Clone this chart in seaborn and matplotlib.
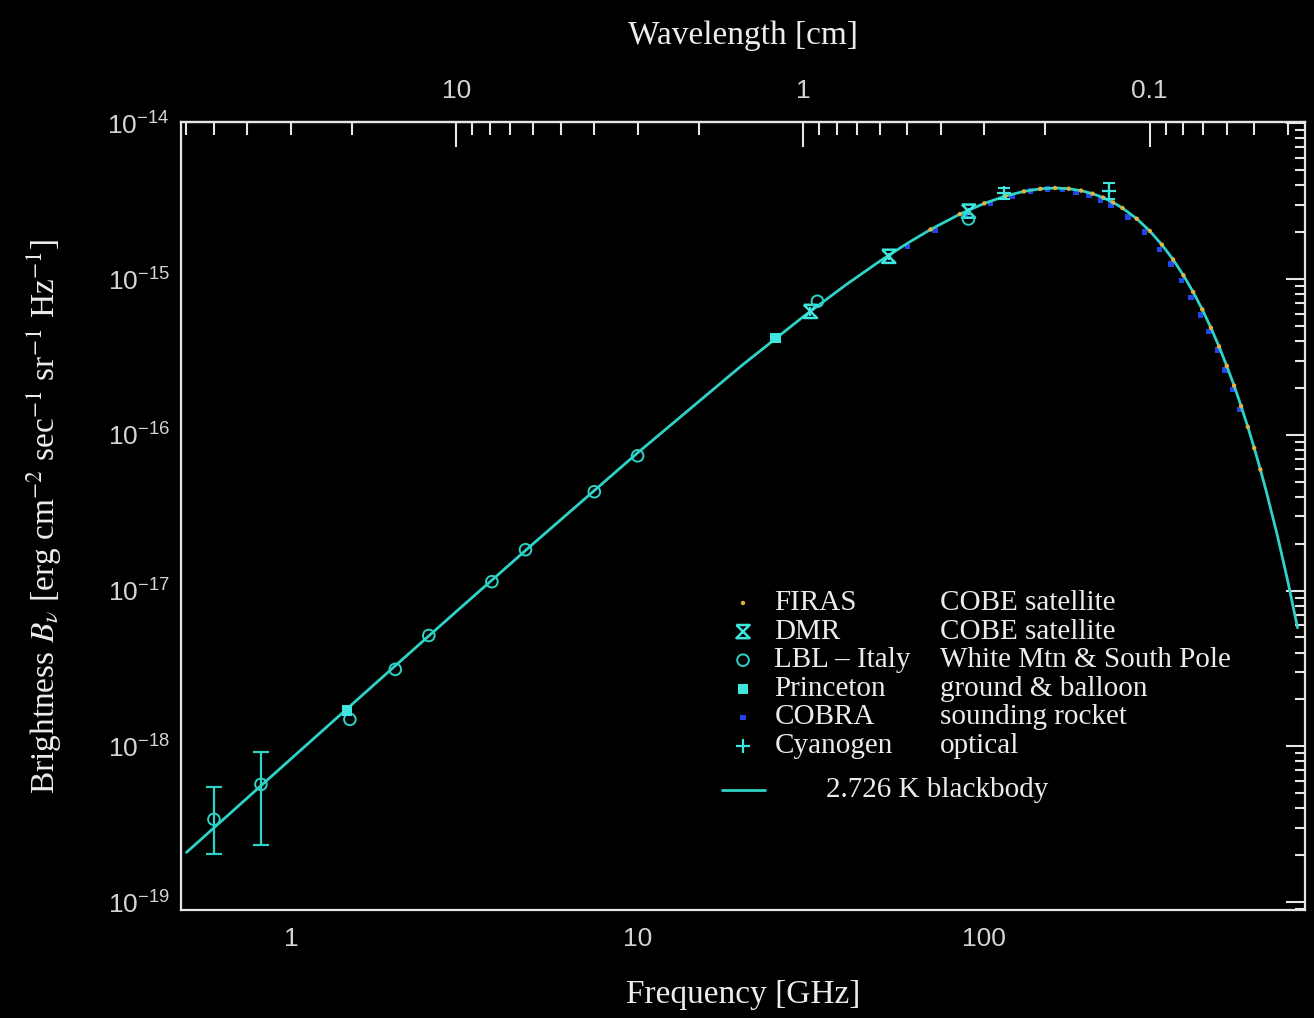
import numpy as np
import matplotlib
matplotlib.use('Agg')
import matplotlib.pyplot as plt
import seaborn as sns
from matplotlib.path import Path
from matplotlib.ticker import LogLocator, NullFormatter

# 2.726 K blackbody curve
bb_freq = [0.5, 1, 2, 3, 5, 10, 20, 30, 40, 50, 60, 70, 85, 100, 115, 130, 145, 160,
           175, 190, 205, 220, 235, 250, 275, 300, 325, 350, 375, 400, 425, 450, 475,
           500, 525, 550, 575, 600, 625, 650, 700, 750, 800]
bb_bright = [2.085e-19, 8.30e-19, 3.29e-18, 7.34e-18, 2.00e-17, 7.66e-17, 2.795e-16,
             5.72e-16, 9.23e-16, 1.306e-15, 1.698e-15, 2.082e-15, 2.612e-15, 3.062e-15,
             3.412e-15, 3.656e-15, 3.796e-15, 3.841e-15, 3.803e-15, 3.696e-15, 3.535e-15,
             3.334e-15, 3.105e-15, 2.860e-15, 2.440e-15, 2.035e-15, 1.662e-15, 1.336e-15,
             1.057e-15, 8.26e-16, 6.38e-16, 4.87e-16, 3.69e-16, 2.77e-16, 2.07e-16,
             1.53e-16, 1.126e-16, 8.23e-17, 5.99e-17, 4.34e-17, 2.25e-17, 1.147e-17, 5.77e-18]

# FIRAS (COBE)
firas_freq = [70, 85, 100, 115, 130, 145, 160, 175, 190, 205, 220, 235, 250, 275, 300,
              325, 350, 375, 400, 425, 450, 475, 500, 525, 550, 575, 600, 625]
firas_bright = [2.082e-15, 2.612e-15, 3.062e-15, 3.412e-15, 3.656e-15, 3.796e-15,
                3.841e-15, 3.803e-15, 3.696e-15, 3.535e-15, 3.334e-15, 3.105e-15,
                2.860e-15, 2.440e-15, 2.035e-15, 1.662e-15, 1.336e-15, 1.057e-15,
                8.26e-16, 6.38e-16, 4.87e-16, 3.69e-16, 2.77e-16, 2.07e-16, 1.53e-16,
                1.126e-16, 8.23e-17, 5.99e-17]

# COBRA (sounding rocket)
cobra_freq = [60, 72, 88, 104, 120, 136, 152, 168, 184, 200, 216, 232, 260, 290, 320,
              345, 370, 395, 420, 445, 470, 495, 520, 545]
cobra_bright = [1.62e-15, 2.05e-15, 2.60e-15, 3.05e-15, 3.42e-15, 3.68e-15, 3.78e-15,
                3.76e-15, 3.62e-15, 3.45e-15, 3.22e-15, 2.98e-15, 2.50e-15, 2.00e-15,
                1.55e-15, 1.25e-15, 9.8e-16, 7.6e-16, 5.9e-16, 4.6e-16, 3.5e-16,
                2.6e-16, 1.95e-16, 1.45e-16]

# DMR (COBE)
dmr_freq = [31.5, 53.0, 90.0]
dmr_bright = [6.2e-16, 1.40e-15, 2.73e-15]
dmr_err = [0.4e-16, 0.8e-16, 1.5e-16]

# LBL - Italy
lbl_freq = [0.60, 0.82, 1.48, 2.0, 2.5, 3.8, 4.75, 7.5, 10.0, 33.0, 90.0]
lbl_bright = [3.40e-19, 5.70e-19, 1.49e-18, 3.12e-18, 5.15e-18, 1.14e-17, 1.83e-17,
              4.31e-17, 7.33e-17, 7.2e-16, 2.43e-15]
lbl_err_lo = [2.03e-19, 2.32e-19]   # lower ends of the two low-frequency bars
lbl_err_hi = [5.46e-19, 9.16e-19]   # upper ends

# Princeton
princeton_freq = [1.45, 25.0]
princeton_bright = [1.70e-18, 4.19e-16]

# Cyanogen
cyan_freq = [113.6, 229.0]
cyan_bright = [3.56e-15, 3.70e-15]
cyan_err = [0.3e-15, 0.45e-15]

legend_names = ['FIRAS', 'DMR', 'LBL \u2013 Italy', 'Princeton', 'COBRA', 'Cyanogen']
legend_notes = ['COBE satellite', 'COBE satellite', 'White Mtn & South Pole',
                'ground & balloon', 'sounding rocket', 'optical']

CYAN = '#2fd2c6'
BRIGHT = '#3fe6e0'
FG = '#ececec'
TICKC = '#d4d4d4'

sns.set_theme(style='dark', rc={
    'figure.facecolor': 'black', 'axes.facecolor': 'black',
    'savefig.facecolor': 'black', 'axes.edgecolor': '#e6e6e6',
    'axes.linewidth': 1.6, 'text.color': FG, 'axes.labelcolor': FG,
    'xtick.color': '#e6e6e6', 'ytick.color': '#e6e6e6',
})
plt.rcParams['font.family'] = ['Liberation Serif', 'DejaVu Serif']
plt.rcParams['mathtext.fontset'] = 'stix'

hourglass = Path([(-1, 1), (1, 1), (-1, -1), (1, -1), (-1, 1)])
styles = {
    'FIRAS': dict(marker='o', s=10, color='#e3b43c', edgecolor='none'),
    'DMR': dict(marker=hourglass, s=90, facecolor='none', edgecolor=BRIGHT, linewidth=1.8),
    'LBL': dict(marker='o', s=70, facecolor='none', edgecolor=CYAN, linewidth=1.4),
    'Princeton': dict(marker='s', s=55, color=BRIGHT, edgecolor='none'),
    'COBRA': dict(marker='s', s=16, color='#2445e6', edgecolor='none'),
    'Cyanogen': dict(marker='+', s=90, color=BRIGHT, linewidth=1.6),
}

fig = plt.figure(figsize=(13.14, 10.18), dpi=100)
ax = fig.add_axes([0.1377, 0.1061, 0.8555, 0.7741])
ax.set_xscale('log')
ax.set_yscale('log')

sns.scatterplot(x=cobra_freq, y=cobra_bright, ax=ax, zorder=2, **styles['COBRA'])
sns.lineplot(x=bb_freq, y=bb_bright, ax=ax, color=CYAN, linewidth=2.0, zorder=3)
sns.scatterplot(x=firas_freq, y=firas_bright, ax=ax, zorder=4, **styles['FIRAS'])

ax.errorbar(dmr_freq, dmr_bright, yerr=dmr_err, fmt='none', ecolor=BRIGHT,
            elinewidth=1.5, capsize=0, zorder=5)
sns.scatterplot(x=dmr_freq, y=dmr_bright, ax=ax, zorder=5, **styles['DMR'])

lo = np.array(lbl_bright[:2]) - np.array(lbl_err_lo)
hi = np.array(lbl_err_hi) - np.array(lbl_bright[:2])
ax.errorbar(lbl_freq[:2], lbl_bright[:2], yerr=[lo, hi], fmt='none', ecolor=CYAN,
            elinewidth=1.6, capsize=6, capthick=1.6, zorder=5)
sns.scatterplot(x=lbl_freq, y=lbl_bright, ax=ax, zorder=5, **styles['LBL'])
sns.scatterplot(x=princeton_freq, y=princeton_bright, ax=ax, zorder=5, **styles['Princeton'])

ax.errorbar(cyan_freq, cyan_bright, yerr=cyan_err, fmt='none', ecolor=BRIGHT,
            elinewidth=1.5, capsize=4, capthick=1.5, zorder=5)
sns.scatterplot(x=cyan_freq, y=cyan_bright, ax=ax, zorder=6, **styles['Cyanogen'])

ax.set_xlim(0.482, 841)
ax.set_ylim(0.89e-19, 1.02e-14)

# ticks
ax.set_xticks([1, 10, 100], labels=['1', '10', '100'])
ax.xaxis.set_minor_locator(LogLocator(base=10, subs=np.arange(2, 10), numticks=30))
ax.xaxis.set_minor_formatter(NullFormatter())
ax.set_yticks([1e-19, 1e-18, 1e-17, 1e-16, 1e-15, 1e-14])
ax.yaxis.set_minor_locator(LogLocator(base=10, subs=np.arange(2, 10), numticks=30))
ax.yaxis.set_minor_formatter(NullFormatter())
ax.tick_params(which='both', direction='in', top=False, right=True, width=1.5,
               labelcolor=TICKC, labelsize=19)
ax.tick_params(axis='x', which='major', length=14, pad=12)
ax.tick_params(axis='y', which='major', length=14, pad=8)
ax.tick_params(which='minor', length=7)
for lab in ax.get_xticklabels() + ax.get_yticklabels():
    lab.set_fontfamily('Liberation Sans')

# wavelength axis on top
C_CM = 29.9792


def ghz_to_cm(f):
    f = np.asarray(f, dtype=float)
    with np.errstate(divide='ignore'):
        return C_CM / f


sec = ax.secondary_xaxis('top', functions=(ghz_to_cm, ghz_to_cm))
sec.set_xticks([10, 1, 0.1], labels=['10', '1', '0.1'])
sec.xaxis.set_minor_locator(LogLocator(base=10, subs=np.arange(2, 10), numticks=30))
sec.xaxis.set_minor_formatter(NullFormatter())
sec.tick_params(which='both', direction='in', width=1.5, labelcolor=TICKC, labelsize=19)
sec.tick_params(which='major', length=18, pad=14)
sec.tick_params(which='minor', length=9)
for lab in sec.get_xticklabels():
    lab.set_fontfamily('Liberation Sans')
sec.set_xlabel('Wavelength [cm]', fontsize=24, labelpad=25)

ax.set_xlabel('Frequency [GHz]', fontsize=24, va='center')
ax.xaxis.set_label_coords(0.5, -0.108)
ax.set_ylabel(r'Brightness $B_\nu$ [erg cm$^{-2}$ sec$^{-1}$ sr$^{-1}$ Hz$^{-1}$]',
              fontsize=24, va='center')
ax.yaxis.set_label_coords(-0.121, 0.5)

# legend table
row0, dy = 0.3896, 0.0363
keys = ['FIRAS', 'DMR', 'LBL', 'Princeton', 'COBRA', 'Cyanogen']
for i, (key, name, note) in enumerate(zip(keys, legend_names, legend_notes)):
    y = row0 - i * dy
    ax.scatter([0.5], [y], transform=ax.transAxes, zorder=7, **styles[key])
    ax.text(0.528, y, name, transform=ax.transAxes, fontsize=21, va='center', color=FG)
    ax.text(0.675, y, note, transform=ax.transAxes, fontsize=21, va='center', color=FG)
ax.plot([0.481, 0.520], [0.1523, 0.1523], transform=ax.transAxes, color=CYAN, lw=2.0)
ax.text(0.574, 0.1523, '2.726 K blackbody', transform=ax.transAxes, fontsize=21,
        va='center', color=FG)

fig.savefig('out.png', dpi=100, facecolor='black')
